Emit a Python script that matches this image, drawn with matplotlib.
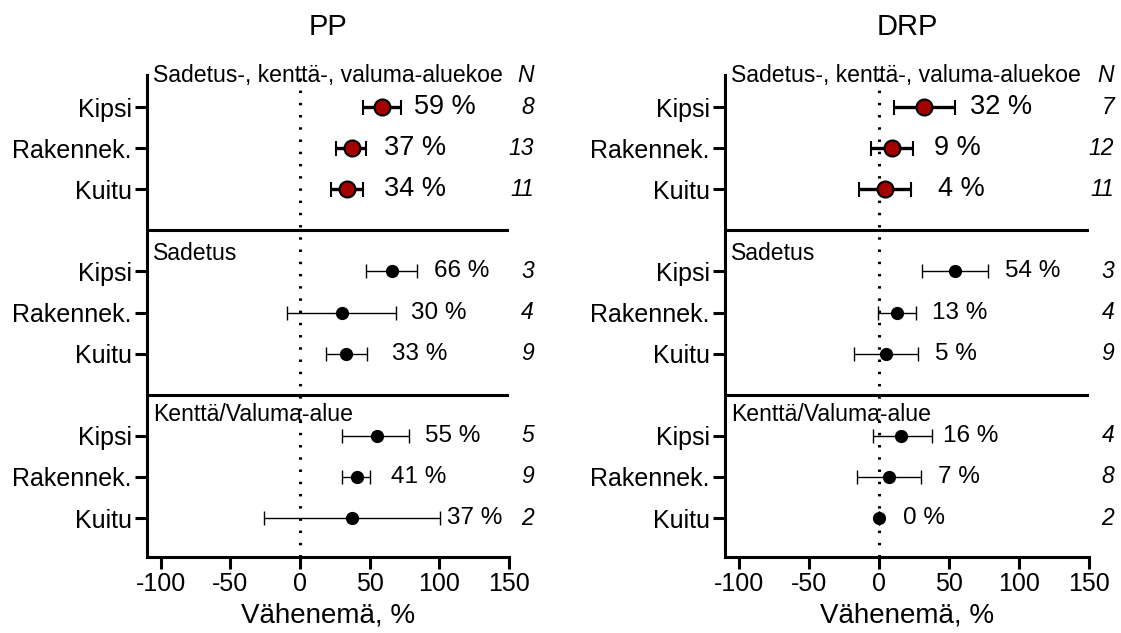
import matplotlib
matplotlib.use("Agg")
from matplotlib import pyplot as plt

plt.rcParams["font.family"] = ["Liberation Sans", "DejaVu Sans"]
plt.rcParams["axes.unicode_minus"] = False

# data
categories = ["Kipsi", "Rakennek.", "Kuitu"]
groups = ["Sadetus-, kenttä-, valuma-aluekoe", "Sadetus", "Kenttä/Valuma-alue"]

pp_mean = [59, 37, 34, 66, 30, 33, 55, 41, 37]
pp_low = [45, 26, 22, 47.6, -9.2, 18.5, 30.3, 30.3, -25.8]
pp_high = [72.5, 47, 45, 84.3, 69, 48.3, 78.4, 50, 100.4]
pp_n = [8, 13, 11, 3, 4, 9, 5, 9, 2]

drp_mean = [32, 9, 4, 54, 13, 5, 16, 7, 0]
drp_low = [11, -6, -14, 31, -1, -17.5, -4.5, -16, 0]
drp_high = [54, 24, 23, 78, 26.5, 28, 38, 30, 0]
drp_n = [7, 12, 11, 3, 4, 9, 4, 8, 2]

xticks = [-100, -50, 0, 50, 100, 150]

# where the "xx %" labels sit (x, data units)
pp_label_x = [82, 60.5, 60.5, 96, 79.6, 65.9, 89.6, 65.4, 105.7]
drp_label_x = [65, 39, 42, 90, 37.6, 40, 45.5, 42, 17]

RED = "#A30000"
LW = 2.2


def plot_panel(ax, title, means, lows, highs, ns, label_x):
    ax.axvline(0, color="black", lw=2.2, ls=(0, (0.8, 3.2)), zorder=1)
    for sep in (3, 7):
        ax.axhline(sep, color="black", lw=LW, zorder=1)

    for i, (m, lo, hi, n, lx) in enumerate(zip(means, lows, highs, ns, label_x)):
        g = i // 3
        y = 4 * g + i % 3
        xerr = [[m - lo], [hi - m]]
        if g == 0:
            ax.errorbar([m], [y], xerr=xerr, fmt="o", ms=11.5, mfc=RED, mec="black", mew=1.5,
                        ecolor="black", elinewidth=2.4, capsize=5.4, capthick=2.4, zorder=3)
            fs = 19.5
        else:
            ax.errorbar([m], [y], xerr=xerr, fmt="o", ms=8.5, mfc="black", mec="black",
                        ecolor="black", elinewidth=1.0, capsize=4.7, capthick=1.0, zorder=3)
            fs = 17.5
        ax.text(lx, y, "%d %%" % m, ha="left", va="center", fontsize=fs)
        ax.text(168, y, str(n), ha="right", va="center", fontsize=16.5, style="italic", clip_on=False)

    for g, name in enumerate(groups):
        ybase = [-0.62, 3.72, 7.63][g]
        ax.text(-105.5, ybase, name, ha="left", va="baseline", fontsize=16.6, zorder=4)
    ax.text(168, -0.62, "N", ha="right", va="baseline", fontsize=16.5, style="italic", clip_on=False)

    ax.set_xlim(-110, 150)
    ax.set_ylim(10.95, -0.78)
    ax.set_xticks(xticks)
    ax.set_xticklabels([str(t) for t in xticks], fontsize=18)
    ax.set_yticks([4 * g + k for g in range(3) for k in range(3)])
    ax.set_yticklabels(categories * 3, fontsize=18)
    ax.tick_params(axis="y", length=9, width=LW, pad=2)
    ax.tick_params(axis="x", length=8.6, width=LW, pad=2)
    for side in ("top", "right"):
        ax.spines[side].set_visible(False)
    for side in ("left", "bottom"):
        ax.spines[side].set_linewidth(LW)
    ax.set_xlabel("Vähenemä, %", fontsize=20, labelpad=5)
    ax.text(0.5, 1.083, title, transform=ax.transAxes, ha="center", va="baseline", fontsize=21)
    return ax


fig = plt.figure(figsize=(11.21, 6.33), dpi=100)
ax1 = fig.add_axes([0.1311, 0.12, 0.3229, 0.7615])
ax2 = fig.add_axes([0.6467, 0.12, 0.3247, 0.7615])
plot_panel(ax1, "PP", pp_mean, pp_low, pp_high, pp_n, pp_label_x)
plot_panel(ax2, "DRP", drp_mean, drp_low, drp_high, drp_n, drp_label_x)
fig.savefig("out.png", dpi=100)
